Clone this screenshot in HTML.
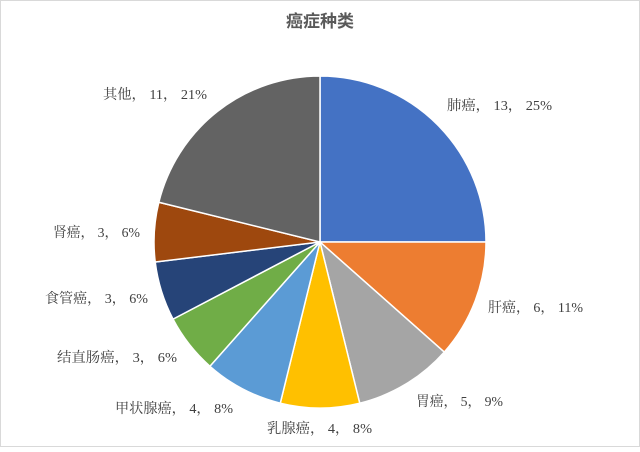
<!DOCTYPE html>
<html><head><meta charset="utf-8"><style>
body{margin:0;background:#fff}
svg text{font-family:"Liberation Serif","Noto Serif CJK SC",serif;font-size:14px;fill:#404040}
</style></head><body>
<svg id="s" width="640" height="447" xmlns="http://www.w3.org/2000/svg">
<rect x="0.5" y="0.5" width="639" height="446" fill="#fff" stroke="#d9d9d9"/>
<text x="320" y="27" text-anchor="middle" style="font-family:'Liberation Sans','Noto Sans CJK SC',sans-serif;font-size:17px;font-weight:bold;fill:#595959">癌症种类</text>
<g id="p"></g>
<text x="447" y="110" textLength="105" lengthAdjust="spacingAndGlyphs">肺癌， 13， 25%</text>
<text x="488" y="312" textLength="95" lengthAdjust="spacingAndGlyphs">肝癌， 6， 11%</text>
<text x="416" y="406" textLength="87" lengthAdjust="spacingAndGlyphs">胃癌， 5， 9%</text>
<text x="267" y="433" textLength="105" lengthAdjust="spacingAndGlyphs">乳腺癌， 4， 8%</text>
<text x="115" y="413" textLength="118" lengthAdjust="spacingAndGlyphs">甲状腺癌， 4， 8%</text>
<text x="57" y="362" textLength="120" lengthAdjust="spacingAndGlyphs">结直肠癌， 3， 6%</text>
<text x="45" y="303" textLength="103" lengthAdjust="spacingAndGlyphs">食管癌， 3， 6%</text>
<text x="53" y="237" textLength="87" lengthAdjust="spacingAndGlyphs">肾癌， 3， 6%</text>
<text x="103" y="99" textLength="104" lengthAdjust="spacingAndGlyphs">其他， 11， 21%</text>
</svg>
<script>
var v=[13,6,5,4,4,3,3,3,11],c=["#4472C4","#ED7D31","#A5A5A5","#FFC000","#5B9BD5","#70AD47","#264478","#9E480E","#636363"];
var cx=320,cy=242,r=166,t=52,a=0,h="";
for(var i=0;i<v.length;i++){var b=a+v[i]/t*2*Math.PI;
var x1=cx+r*Math.sin(a),y1=cy-r*Math.cos(a),x2=cx+r*Math.sin(b),y2=cy-r*Math.cos(b);
h+='<path d="M'+cx+','+cy+'L'+x1+','+y1+'A'+r+','+r+' 0 '+(b-a>Math.PI?1:0)+' 1 '+x2+','+y2+'Z" fill="'+c[i]+'" stroke="#fff" stroke-width="1.5"/>';a=b;}
document.getElementById("p").innerHTML=h;
</script>
</body></html>
